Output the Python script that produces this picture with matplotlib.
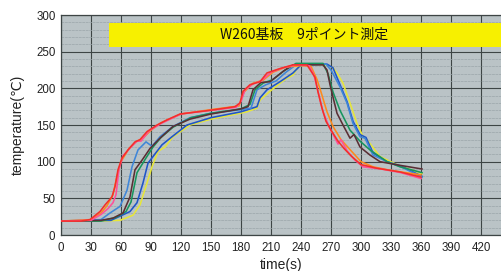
import matplotlib
matplotlib.use("Agg")
import matplotlib.pyplot as plt
from matplotlib.patches import Rectangle
from matplotlib.ticker import MultipleLocator

plt.rcParams['font.family'] = ['Liberation Sans', 'DejaVu Sans']

title_text = "W260基板\u30009ポイント測定"
x_label = "time(s)"
y_label = "temperature(\u2103)"
x_ticks = list(range(0, 421, 30))
y_ticks = list(range(0, 301, 50))

t_red = [0, 20, 29, 39, 44, 51, 54, 57, 61, 67, 74, 79, 86, 96, 106, 119, 149, 174, 179, 182, 189, 199, 206, 219, 232, 246, 254, 257, 261, 265, 270, 277, 283, 290, 300, 316, 339, 360]
y_red = [19, 19, 21, 32, 41, 52, 66, 89, 105, 116, 127, 130, 141, 150, 157, 165, 170, 175, 180, 196, 205, 209, 221, 227, 232, 232, 215, 195, 173, 155, 143, 128, 118, 108, 96, 91, 86, 79]

t_pink = [0, 30, 40, 47, 52, 55, 58, 62, 70, 76, 80, 88, 100, 120, 150, 175, 180, 184, 192, 200, 210, 222, 235, 248, 253, 257, 262, 268, 274, 277, 280, 286, 294, 302, 320, 340, 360]
y_pink = [19, 20, 28, 36, 44, 55, 90, 108, 120, 128, 128, 142, 152, 165, 170, 174, 182, 198, 206, 210, 222, 228, 232, 231, 218, 196, 168, 148, 132, 124, 130, 115, 102, 93, 90, 85, 77]

t_orange = [0, 30, 40, 46, 52, 56, 60, 68, 75, 82, 90, 100, 120, 150, 178, 183, 192, 202, 212, 225, 240, 250, 256, 260, 266, 272, 280, 290, 300, 312, 330, 360]
y_orange = [19, 21, 30, 40, 55, 80, 100, 118, 127, 132, 143, 153, 165, 171, 176, 195, 207, 211, 222, 229, 231, 230, 212, 195, 168, 148, 130, 115, 100, 93, 88, 82]

t_brown = [0, 40, 52, 62, 69, 74, 81, 89, 99, 112, 129, 150, 180, 187, 192, 200, 209, 222, 232, 262, 266, 269, 272, 276, 282, 289, 293, 299, 309, 319, 339, 361]
y_brown = [19, 20, 23, 30, 52, 89, 102, 118, 132, 148, 158, 165, 172, 175, 198, 208, 209, 223, 232, 232, 225, 205, 188, 166, 150, 132, 137, 120, 109, 100, 95, 90]

t_green = [0, 40, 55, 65, 70, 76, 85, 92, 100, 112, 130, 150, 180, 189, 194, 202, 212, 224, 235, 262, 267, 272, 279, 289, 299, 309, 326, 339, 361]
y_green = [19, 19, 24, 32, 45, 85, 105, 120, 133, 147, 160, 166, 172, 178, 198, 207, 212, 225, 234, 234, 220, 195, 170, 143, 128, 116, 100, 93, 85]

t_lblue = [0, 40, 49, 59, 66, 71, 77, 85, 91, 99, 112, 129, 150, 180, 190, 196, 205, 215, 225, 235, 265, 270, 279, 286, 292, 299, 304, 312, 326, 340, 361]
y_lblue = [19, 21, 30, 39, 61, 93, 116, 127, 121, 134, 148, 160, 166, 171, 173, 198, 205, 210, 222, 232, 233, 225, 202, 180, 152, 134, 132, 109, 100, 93, 79]

t_blue = [0, 50, 69, 76, 82, 87, 92, 101, 111, 126, 150, 180, 196, 199, 206, 219, 232, 240, 266, 272, 279, 286, 292, 299, 305, 312, 326, 340, 361]
y_blue = [19, 20, 32, 44, 71, 98, 107, 123, 134, 150, 160, 168, 175, 187, 198, 209, 221, 232, 233, 228, 205, 182, 155, 137, 133, 112, 100, 94, 80]

t_yellow = [0, 40, 59, 72, 79, 86, 91, 97, 104, 112, 129, 150, 186, 196, 199, 209, 219, 226, 232, 239, 266, 272, 276, 282, 289, 296, 302, 306, 319, 339, 361]
y_yellow = [19, 19, 20, 27, 41, 71, 93, 114, 120, 134, 150, 158, 168, 173, 184, 196, 207, 214, 218, 233, 232, 228, 221, 207, 180, 152, 134, 130, 107, 94, 84]

series = [
    (t_yellow, y_yellow, '#e6e63a'),
    (t_blue, y_blue, '#1f55c8'),
    (t_lblue, y_lblue, '#3f86d8'),
    (t_green, y_green, '#17955e'),
    (t_brown, y_brown, '#5a2f35'),
    (t_orange, y_orange, '#ff8a1c'),
    (t_pink, y_pink, '#ff4f9a'),
    (t_red, y_red, '#f2302a'),
]

fig = plt.figure(figsize=(5.02, 2.71), dpi=100)
ax = fig.add_axes([61 / 502, 36 / 271, 441 / 502, 220 / 271])
ax.set_facecolor('#bac3c6')

for t, y, c in series:
    ax.plot(t, y, color=c, lw=1.15, zorder=3, solid_joinstyle='round')

ax.set_xlim(0, 441)
ax.set_ylim(0, 300)
ax.set_xticks(x_ticks)
ax.set_yticks(y_ticks)
ax.yaxis.set_minor_locator(MultipleLocator(10))
ax.grid(True, which='major', color='#3d4545', lw=0.8, zorder=1)
ax.grid(True, which='minor', axis='y', color='#9ba6aa', lw=0.5, ls=(0, (4, 1)), zorder=1)
ax.tick_params(which='both', length=0)
ax.tick_params(axis='x', pad=5, labelsize=8.3, colors='#222222')
ax.tick_params(axis='y', pad=4, labelsize=8.3, colors='#222222')
for s in ['left', 'bottom', 'top']:
    ax.spines[s].set_color('#3d4545')
    ax.spines[s].set_linewidth(0.9)
ax.spines['right'].set_visible(False)

ax.add_patch(Rectangle((48, 256), 400, 33, facecolor='#f7f000', edgecolor='none', zorder=4))
ax.text(243, 272.5, title_text, ha='center', va='center', fontsize=10,
        family=['Noto Sans CJK JP', 'DejaVu Sans'], color='#111111', zorder=5)

ax.set_xlabel(x_label, fontsize=10, color='#222222', labelpad=3)
ax.set_ylabel(y_label, fontsize=10, color='#222222', labelpad=8)

fig.savefig('out.png', dpi=100)
